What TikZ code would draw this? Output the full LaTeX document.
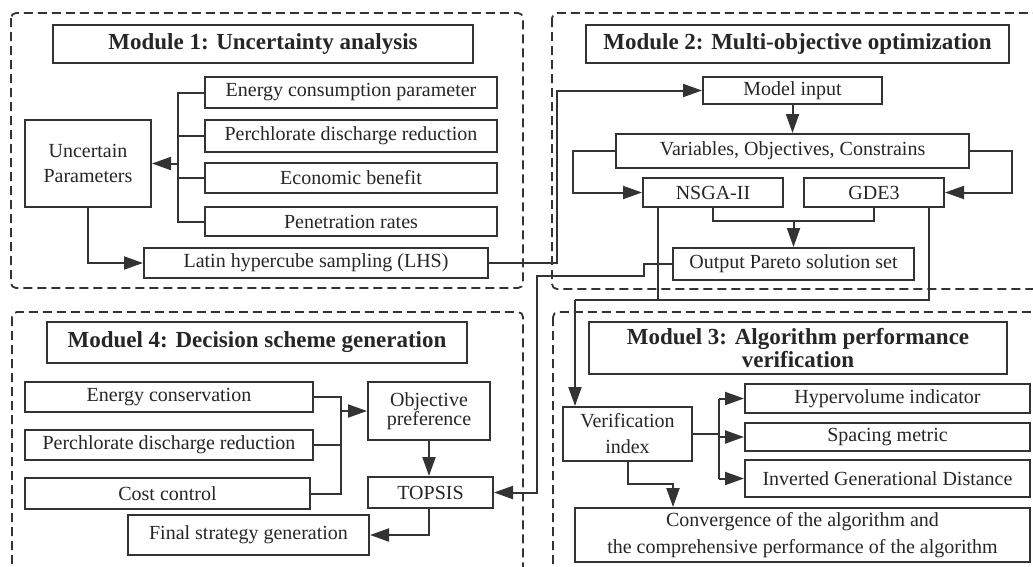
\documentclass[tikz,border=0pt]{standalone}
\usepackage{fontspec}
\setmainfont{Liberation Serif}
\usetikzlibrary{arrows.meta}
\definecolor{lc}{HTML}{333333}
\definecolor{tc}{HTML}{262626}
\tikzset{
  box/.style={draw=lc, fill=white, line width=2pt, inner sep=0pt, align=center, text=tc, font=\fontsize{20}{25}\selectfont},
  ttl/.style={box, font=\bfseries\fontsize{23}{23}\selectfont},
  module/.style={draw=lc, line width=1.8pt, dash pattern=on 9pt off 5pt, rounded corners=5pt},
  conn/.style={draw=lc, line width=2pt},
  arr/.style={conn, -{Triangle[length=19pt,width=13pt]}},
}
\begin{document}
\begin{tikzpicture}[x=1pt,y=-1pt]
\path[use as bounding box] (0,0) rectangle (1033,566);
\clip (0,0) rectangle (1033,566);
% modules
\draw[module] (11,13) rectangle (523,288);
\draw[module] (552,13) rectangle (1045,289);
\draw[module] (12,312) rectangle (523,590);
\draw[module] (553,312) rectangle (1045,590);
% Module 1
\node[ttl, minimum width=420pt, minimum height=38pt] (t1) at (263,44) {Module 1: Uncertainty analysis};
\node[box, minimum width=292pt, minimum height=31pt] (ecp) at (351,92.5) {Energy consumption parameter};
\node[box, minimum width=292pt, minimum height=32pt] (pdr) at (351,136) {Perchlorate discharge reduction};
\node[box, minimum width=292pt, minimum height=30pt] (eb) at (351,178) {Economic benefit};
\node[box, minimum width=292pt, minimum height=29pt] (pr) at (351,221.5) {Penetration rates};
\node[box, minimum width=126pt, minimum height=87pt] (up) at (88,163.5) {Uncertain\\Parameters};
\node[box, minimum width=344pt, minimum height=30pt] (lhs) at (316,263) {Latin hypercube sampling (LHS)};
% Module 2
\node[ttl, minimum width=423pt, minimum height=38pt] (t2) at (797.5,44) {Module 2: Multi-objective optimization};
\node[box, minimum width=179pt, minimum height=27pt] (mi) at (792.5,90.5) {Model input};
\node[box, minimum width=353pt, minimum height=34pt] (var) at (792.5,151) {Variables, Objectives, Constrains};
\node[box, minimum width=140pt, minimum height=29pt] (nsga) at (713,192.5) {NSGA-II};
\node[box, minimum width=140pt, minimum height=29pt] (gde) at (874,192.5) {GDE3};
\node[box, minimum width=241pt, minimum height=32pt] (out) at (793.5,264) {Output Pareto solution set};
% Module 4
\node[ttl, minimum width=420pt, minimum height=41pt] (t4) at (257,342.5) {Moduel 4: Decision scheme generation};
\node[box, minimum width=288pt, minimum height=30pt] (ec) at (169,397) {Energy conservation};
\node[box, minimum width=288pt, minimum height=30pt] (pdr2) at (169,445) {Perchlorate discharge reduction};
\node[box, minimum width=285pt, minimum height=31pt] (cc) at (167.5,493.5) {Cost control};
\node[box, minimum width=122pt, minimum height=58pt, font=\fontsize{20}{19}\selectfont] (op) at (429,411) {Objective\\preference};
\node[box, minimum width=125pt, minimum height=31pt] (topsis) at (430.5,492.5) {TOPSIS};
\node[box, minimum width=241pt, minimum height=40pt] (fsg) at (248.5,535) {Final strategy generation};
% Module 3
\node[ttl, minimum width=418pt, minimum height=52pt] (t3) at (798,348) {Moduel 3: Algorithm performance\\verification};
\node[box, minimum width=129pt, minimum height=54pt, font=\fontsize{20}{26}\selectfont] (vi) at (627.5,434) {Verification\\index};
\node[box, minimum width=285pt, minimum height=29pt] (hv) at (887.5,398.5) {Hypervolume indicator};
\node[box, minimum width=285pt, minimum height=28pt] (sm) at (887.5,437) {Spacing metric};
\node[box, minimum width=285pt, minimum height=37pt] (igd) at (887.5,478.5) {Inverted Generational Distance};
\node[box, minimum width=455pt, minimum height=54pt, font=\fontsize{20}{27}\selectfont] (conv) at (802.5,535) {Convergence of the algorithm and\\the comprehensive performance of the algorithm};
% helper coordinates
\coordinate (bx1) at (178,0);
\coordinate (c1) at (557,0);
\coordinate (c2) at (573,0);
\coordinate (c3) at (1012,0);
\coordinate (m) at (793.5,221);
\coordinate (c4) at (644,276);
\coordinate (c5) at (537,0);
\coordinate (c6) at (575,300);
\coordinate (c7) at (658,0);
\coordinate (c8) at (929,0);
\coordinate (bx4) at (341,0);
\coordinate (bx3) at (719,0);
\coordinate (c9) at (673,0);
% Module 1 connectors
\draw[conn] (ecp.west) -- (ecp.west -| bx1) -- (pr.west -| bx1) -- (pr.west);
\draw[conn] (pdr.west) -- (pdr.west -| bx1);
\draw[conn] (eb.west) -- (eb.west -| bx1);
\draw[arr] (up.east -| bx1) -- (up.east);
\draw[arr] (up.south) |- (lhs.west);
\draw[arr] (lhs.east) -- (lhs.east -| c1) -- (mi.west -| c1) -- (mi.west);
% Module 2 connectors
\draw[arr] (mi.south) -- (var.north);
\draw[arr] (var.west) -- (var.west -| c2) -- (nsga.west -| c2) -- (nsga.west);
\draw[arr] (var.east) -- (var.east -| c3) -- (gde.east -| c3) -- (gde.east);
\draw[conn] (nsga.south) -- (nsga.south |- m) -- (gde.south |- m) -- (gde.south);
\draw[arr] (m) -- (out.north);
\draw[arr] (out.west) -| (c4) -- (c4 -| c5) |- (topsis.east);
\draw[conn] (nsga.south -| c7) -- (c7 |- c6);
\draw[conn] (gde.south -| c8) |- (c6);
\draw[arr] (c6) -- (c6 |- vi.north);
% Module 4 connectors
\draw[conn] (ec.east) -- (ec.east -| bx4) -- (cc.east -| bx4) -- (cc.east);
\draw[conn] (pdr2.east) -- (pdr2.east -| bx4);
\draw[arr] (op.west -| bx4) -- (op.west);
\draw[arr] (op.south) -- (op.south |- topsis.north);
\draw[arr] (op.south |- topsis.south) |- (fsg.east);
% Module 3 connectors
\draw[conn] (vi.east) -- (vi.east -| bx3);
\draw[conn] (hv.west -| bx3) -- (igd.west -| bx3);
\draw[arr] (hv.west -| bx3) -- (hv.west);
\draw[arr] (sm.west -| bx3) -- (sm.west);
\draw[arr] (igd.west -| bx3) -- (igd.west);
\draw[arr] (vi.south) -- ++(0,22) -| (c9 |- conv.north);
\end{tikzpicture}
\end{document}
